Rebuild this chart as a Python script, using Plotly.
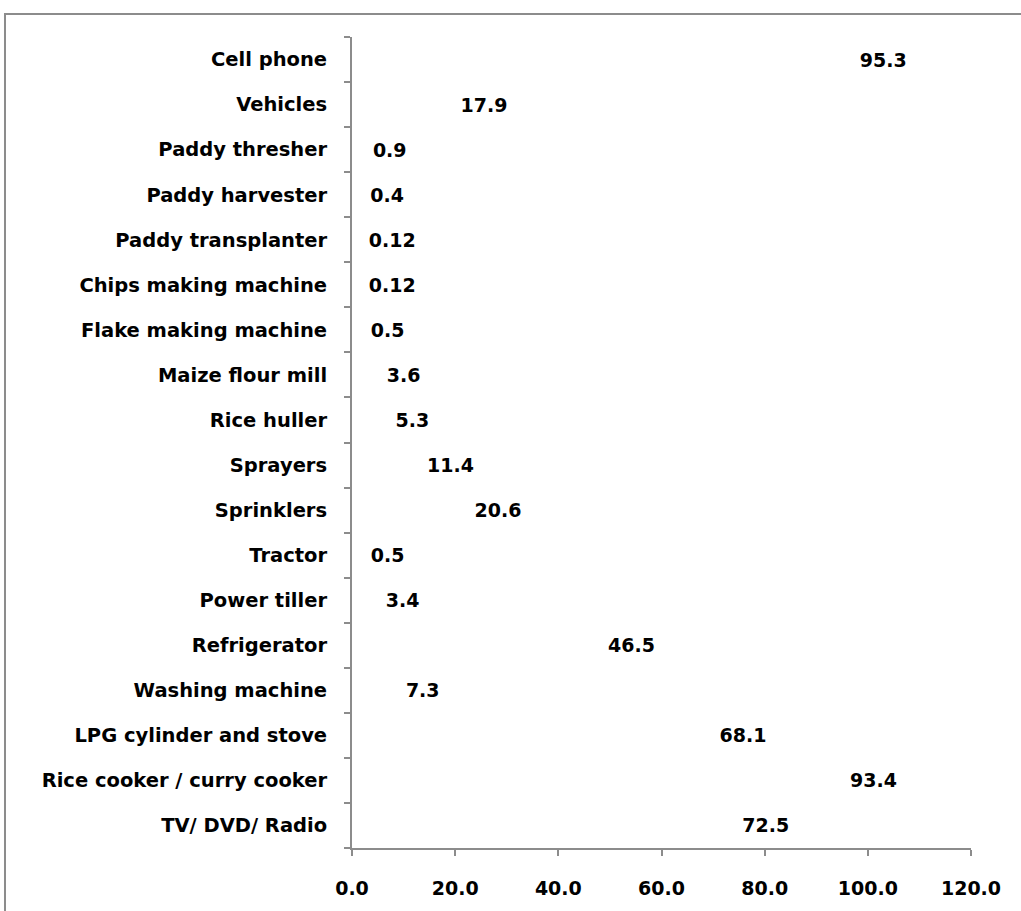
import plotly.graph_objects as go

# Ownership share (%) of household and farm assets, listed bottom to top
items = [
    "TV/ DVD/ Radio",
    "Rice cooker / curry cooker",
    "LPG cylinder and stove",
    "Washing machine",
    "Refrigerator",
    "Power tiller",
    "Tractor",
    "Sprinklers",
    "Sprayers",
    "Rice huller",
    "Maize flour mill",
    "Flake making machine",
    "Chips making machine",
    "Paddy transplanter",
    "Paddy harvester",
    "Paddy thresher",
    "Vehicles",
    "Cell phone",
]
shares = [72.5, 93.4, 68.1, 7.3, 46.5, 3.4, 0.5, 20.6, 11.4, 5.3,
          3.6, 0.5, 0.12, 0.12, 0.4, 0.9, 17.9, 95.3]
share_labels = ["72.5", "93.4", "68.1", "7.3", "46.5", "3.4", "0.5", "20.6", "11.4",
                "5.3", "3.6", "0.5", "0.12", "0.12", "0.4", "0.9", "17.9", "95.3"]

x_ticks = [0, 20, 40, 60, 80, 100, 120]

FONT = "DejaVu Sans"
AXIS_GREY = "#8c8c8c"

fig = go.Figure()
fig.add_trace(go.Bar(
    x=shares,
    y=items,
    orientation="h",
    marker=dict(color="rgba(0,0,0,0)", line=dict(width=0)),
    text=["\u00a0\u00a0" + s for s in share_labels],
    textposition="outside",
    constraintext="none",
    cliponaxis=False,
    textfont=dict(family=FONT, size=19, color="black", weight="bold"),
    hoverinfo="skip",
    showlegend=False,
))

fig.update_layout(
    width=1021,
    height=911,
    margin=dict(l=352, r=50, t=37, b=63),
    paper_bgcolor="white",
    plot_bgcolor="white",
    font=dict(family=FONT, size=19, color="black", weight="bold"),
    showlegend=False,
)

fig.update_xaxes(
    range=[0, 120],
    tickvals=x_ticks,
    tickformat=".1f",
    showgrid=False,
    zeroline=False,
    showline=True,
    linecolor=AXIS_GREY,
    linewidth=2,
    ticks="outside",
    ticklen=6,
    tickwidth=2,
    tickcolor=AXIS_GREY,
    ticklabelstandoff=16,
    tickfont=dict(family=FONT, size=19, color="black", weight="bold"),
)

fig.update_yaxes(
    type="category",
    categoryorder="array",
    categoryarray=items,
    tickson="boundaries",
    showgrid=False,
    zeroline=False,
    showline=True,
    linecolor=AXIS_GREY,
    linewidth=2,
    ticks="outside",
    ticklen=6,
    tickwidth=2,
    tickcolor=AXIS_GREY,
    ticklabelstandoff=19,
    tickfont=dict(family=FONT, size=19.5, color="black", weight="bold"),
)

# Chart frame around the whole figure (top and left edges visible)
fig.add_shape(
    type="rect",
    xref="paper", yref="paper",
    x0=-0.5606, x1=1.2, y0=-0.2, y1=1.0284,
    line=dict(color=AXIS_GREY, width=2),
    fillcolor="rgba(0,0,0,0)",
    layer="below",
)

fig.write_html("out.html")
